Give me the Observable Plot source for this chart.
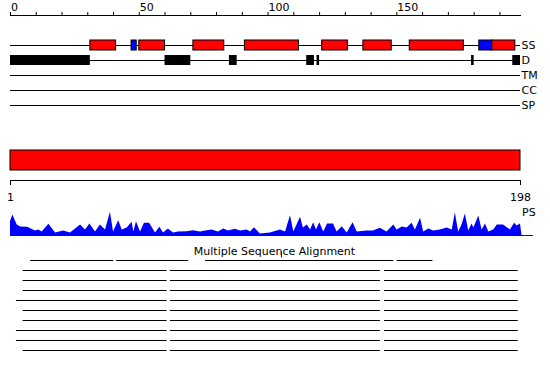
<!DOCTYPE html>
<html>
<head>
<meta charset="utf-8">
<script src="https://cdn.jsdelivr.net/npm/d3@7"></script>
<script src="https://cdn.jsdelivr.net/npm/@observablehq/plot@0.6"></script>
<style>
  html, body { margin: 0; padding: 0; background: #fff; overflow: hidden; }
  #chart svg { display: block; }
</style>
</head>
<body>
<div id="chart"></div>
<script>
// ---- data ----
const tracks = ["SS", "D", "TM", "CC", "SP"];
const axisLabels = [0, 50, 100, 150];
const tickStep = 10;
const seqLength = 198;
const rulerTicks = [1, 198];
const helices = [[31, 41], [50, 60], [71, 83], [91, 112], [121, 131], [137, 148], [155, 176], [187, 196]];
const strands = [[47, 49], [182, 187]];
const disorder = [[0, 31], [60, 70], [85, 88], [115, 118], [119, 120], [179, 180], [195, 198]];
const psPos = [0, 0.9, 2.6, 3.9, 6.7, 9.7, 11, 12.3, 14.9, 17.5, 20.6, 23.3, 27.2, 29.1, 30.8, 33, 34.9, 36.9, 38.8, 40, 42, 43.4, 45.3, 47.2, 47.9, 48.9, 50.5, 52, 54, 56.3, 58, 59.4, 61.3, 63.3, 65.2, 68.6, 71, 73.8, 75.7, 78.3, 80.7, 82.8, 84.6, 87.3, 89.3, 91.9, 93.2, 94.7, 97, 100.9, 104.8, 106.8, 108.7, 110, 112.6, 113.7, 115.2, 116.5, 117.7, 118.8, 120.1, 121.6, 123.1, 125.4, 126.8, 128.8, 130.7, 133, 134.6, 138.5, 140.9, 143.6, 146.2, 148.8, 150.1, 152.1, 154, 155.9, 157.2, 159.2, 160.4, 162.4, 164.3, 166.9, 169.5, 171.5, 172.7, 174, 175.3, 176.6, 177.9, 179.2, 179.9, 181.8, 183.1, 184.4, 185.7, 187.6, 189, 191.4, 194.1, 195.7, 196.7, 198, 198.6];
const psVal = [14, 20.5, 10.5, 8.5, 8.2, 4.5, 5.5, 3.5, 11.2, 2.5, 4.5, 2.5, 10.5, 5.5, 11.5, 3.5, 10.5, 5.5, 23.2, 3.5, 14.8, 5.5, 7.5, 13.2, 3.5, 13.8, 3.5, 12.2, 12.2, 2.5, 8.2, 2.5, 6.5, 2.5, 3.5, 3.8, 4.8, 3.5, 4.5, 5.5, 3.5, 6.5, 4.5, 6.2, 4.5, 5.5, 3.5, 7.8, 1.5, 2.5, 5.5, 3.5, 19.8, 3.5, 18.2, 7.5, 10.5, 5.5, 12.8, 5.5, 12.8, 3.5, 11.5, 11.5, 3.5, 8.8, 2.5, 12.8, 3.5, 4.5, 4.5, 7.2, 3.5, 10.5, 5.5, 8.5, 7.5, 12.2, 5.5, 17.2, 3.5, 6.5, 4.5, 5.5, 7.5, 5.5, 22.8, 3.5, 10.5, 21.5, 4.5, 11.5, 7.5, 19.5, 5.5, 11.5, 3.5, 5.5, 10.5, 10.5, 5.5, 12.2, 9.5, 11.5, 0];
const msaTitle = "Multiple Sequence Alignment";
const msaRows = [
  [[7.8, 40.1], [41.2, 69.2], [75.7, 148.8], [150.1, 164.0]],
  [[4.9, 60.8], [62.1, 143.6], [145.2, 197.1]],
  [[4.9, 60.8], [62.1, 143.6], [145.2, 197.1]],
  [[4.9, 60.8], [62.1, 143.6], [145.2, 197.1]],
  [[2.3, 60.8], [62.1, 143.6], [145.2, 197.1]],
  [[4.9, 60.8], [62.1, 143.6], [145.2, 197.1]],
  [[4.9, 60.8], [62.1, 143.6], [145.2, 197.1]],
  [[2.3, 60.8], [62.1, 143.6], [145.2, 197.1]],
  [[2.3, 60.8], [62.1, 143.6], [145.2, 197.1]],
  [[4.9, 60.8], [62.1, 143.6], [145.2, 197.1]]
];
const msaMarker = [105.2];

// ---- derived tables ----
const ssTable = [
  ...helices.map(([s, e]) => ({start: s, end: e, type: "helix"})),
  ...strands.map(([s, e]) => ({start: s, end: e, type: "strand"}))
];
const dTable = disorder.map(([s, e]) => ({start: s, end: e}));
const psTable = psPos.map((p, i) => ({pos: p, score: psVal[i]}));
const msaTable = msaRows.flatMap((segs, row) => segs.map(([s, e]) => ({row, start: s, end: e})));

const font = {fontFamily: "'DejaVu Sans', sans-serif", fontSize: "11px", color: "black", background: "white", overflow: "visible"};
const W = 550, ML = 10, MR = 30;
const container = document.getElementById("chart");

// Panel A: top ruler + feature tracks
const panelA = Plot.plot({
  width: W, height: 115, marginLeft: ML, marginRight: MR, marginTop: 15, marginBottom: 0,
  style: font,
  x: {domain: [0, seqLength], axis: "top", ticks: d3.range(0, seqLength + 1, tickStep), tickSize: 4,
      tickFormat: () => "", line: true, label: null},
  y: {domain: [0, tracks.length - 1], range: [45, 105], axis: null},
  marks: [
    Plot.text(axisLabels, {x: d => d, text: d => String(d), frameAnchor: "top", lineAnchor: "middle", textAnchor: "start", dx: 0.5, dy: -8.5, fontSize: 11}),
    Plot.ruleY(tracks, {y: (d, i) => i, x1: () => 0, x2: () => seqLength, stroke: "black"}),
    Plot.text(tracks, {x: () => seqLength, y: (d, i) => i, text: d => d, textAnchor: "start", dx: 1, fontSize: 11}),
    Plot.rect(ssTable, {x1: "start", x2: "end", y1: () => -1 / 3, y2: () => 1 / 3,
      fill: d => d.type === "helix" ? "#ff0000" : "#0000ff", stroke: "black", strokeWidth: 1}),
    Plot.rect(dTable, {x1: "start", x2: "end", y1: () => 1 - 1 / 3, y2: () => 1 + 1 / 3, fill: "black"})
  ]
});

// Panel B: full-length domain bar + residue ruler
const panelB = Plot.plot({
  width: W, height: 90, marginLeft: ML, marginRight: MR, marginTop: 35, marginBottom: 25,
  style: font,
  x: {domain: [1, seqLength], axis: "bottom", ticks: rulerTicks, tickSize: 5, tickFormat: () => "", line: true, label: null},
  y: {axis: null},
  marks: [
    Plot.rect([{start: 1, end: seqLength}], {x1: "start", x2: "end", insetBottom: 10, fill: "#ff0000", stroke: "black"}),
    Plot.text(rulerTicks, {x: d => d, text: d => String(d), frameAnchor: "bottom", lineAnchor: "middle", dy: 16.5, fontSize: 11})
  ]
});

// Panel C: PS profile
const panelC = Plot.plot({
  width: W, height: 35, marginLeft: ML, marginRight: MR, marginTop: 0, marginBottom: 0,
  style: font,
  x: {domain: [0, seqLength], axis: null},
  y: {domain: [0, 25], range: [30, 5], axis: null},
  marks: [
    Plot.areaY(psTable, {x: "pos", y: "score", fill: "#0000ff", curve: "linear"}),
    Plot.ruleY([0], {x1: () => 0, x2: () => 203, stroke: "#0000ff"}),
    Plot.text(["PS"], {x: () => seqLength, text: d => d, frameAnchor: "top", lineAnchor: "middle", textAnchor: "start", dx: 1.5, dy: 6.5, fontSize: 11})
  ]
});

// Panel D: multiple sequence alignment overview
const panelD = Plot.plot({
  width: W, height: 140, marginLeft: ML, marginRight: MR, marginTop: 0, marginBottom: 0,
  style: font,
  x: {domain: [0, seqLength], axis: null},
  y: {domain: [0, msaRows.length - 1], range: [20, 110], axis: null},
  marks: [
    Plot.text([msaTitle], {text: d => d, frameAnchor: "top", lineAnchor: "middle", dx: 9, dy: 11, fontSize: 11}),
    Plot.ruleY(msaTable, {y: "row", x1: "start", x2: "end", stroke: "black"}),
    Plot.ruleX(msaMarker, {x: d => d, y1: () => -0.85, y2: () => -0.25, stroke: "#0000ff"})
  ]
});

container.append(panelA, panelB, panelC, panelD);
</script>
</body>
</html>
